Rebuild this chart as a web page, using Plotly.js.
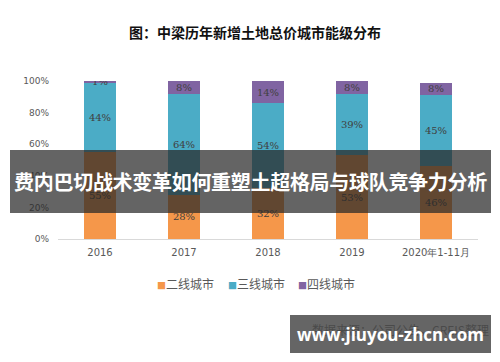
<!DOCTYPE html>
<html>
<head>
<meta charset="utf-8">
<script src="https://cdn.plot.ly/plotly-3.0.1.min.js"></script>
<style>
html,body{margin:0;padding:0;background:#fff;}
#wrap{position:relative;width:500px;height:362px;overflow:hidden;}
#chart{width:500px;height:362px;}
#banner{position:absolute;left:10px;top:150px;width:481px;height:63px;background:rgba(40,40,40,0.72);color:#fff;
font-family:"Noto Sans CJK SC","Noto Sans",sans-serif;font-weight:bold;font-size:20px;line-height:63px;text-align:center;white-space:nowrap;letter-spacing:-0.3px;}
#wm{position:absolute;left:290px;top:315px;width:201px;height:38px;background:rgba(80,80,80,0.88);color:#fff;
font-family:"Open Sans","DejaVu Sans",sans-serif;font-weight:bold;font-size:17px;line-height:40px;text-align:center;white-space:nowrap;}
</style>
</head>
<body>
<div id="wrap">
<div id="chart"></div>
<div id="banner">费内巴切战术变革如何重塑土超格局与球队竞争力分析</div>
<div id="wm">www.jiuyou-zhcn.com</div>
</div>
<script>
var categories = ["2016", "2017", "2018", "2019", "2020年1-11月"];
var tier2 = [55, 28, 32, 53, 46];
var tier3 = [44, 64, 54, 39, 45];
var tier4 = [1, 8, 14, 8, 8];
var seriesNames = ["二线城市", "三线城市", "四线城市"];
var yTicks = [0, 20, 40, 60, 80, 100];
var yTickLabels = ["0%", "20%", "40%", "60%", "80%", "100%"];

var colors = ["#F5974A", "#4BACC6", "#8064A2"];
var seriesVals = [tier2, tier3, tier4];
var traces = seriesVals.map(function(v, i){
  return {
    type: "bar",
    name: seriesNames[i],
    x: categories,
    y: v,
    marker: {color: colors[i], line: {width: 0}},
    text: v.map(function(d){ return d + "%"; }),
    textposition: "inside",
    insidetextanchor: "middle",
    textangle: 0,
    constraintext: "none",
    textfont: {family: "DejaVu Serif, Liberation Serif, serif", size: 10, color: "#404040"},
    hoverinfo: "none",
    showlegend: false
  };
});

// legend drawn as annotations (compact, like the reference)
var plotL = 58, plotW = 420, plotB = 239, plotH = 158;
var legendX = [155, 226, 296];
var legendY = 283;
var annotations = seriesNames.map(function(n, i){
  return {
    text: "<span style='color:" + colors[i] + ";font-size:9px'>■</span>" + n,
    xref: "paper", yref: "paper",
    x: (legendX[i] - plotL) / plotW, y: (plotB - legendY) / plotH,
    xanchor: "left", yanchor: "middle", showarrow: false,
    font: {family: "Noto Sans CJK SC, sans-serif", size: 12, color: "#595959"}
  };
});
annotations.push({
  text: "数据来源：公司公告，CREIS整理",
  xref: "paper", yref: "paper",
  x: 1.03, y: -0.57, xanchor: "right", yanchor: "middle",
  showarrow: false,
  font: {family: "Noto Sans CJK SC, sans-serif", size: 12, color: "#222"}
});

var layout = {
  width: 500, height: 362,
  barmode: "stack",
  bargap: 0.61,
  paper_bgcolor: "#fff",
  plot_bgcolor: "#fff",
  margin: {l: plotL, r: 500 - plotL - plotW, t: 81, b: 362 - plotB},
  uniformtext: {mode: "show", minsize: 10},
  title: {
    text: "<b>图：中梁历年新增土地总价城市能级分布</b>",
    font: {family: "Noto Sans CJK SC, sans-serif", size: 14, color: "#111"},
    x: 0.51, xref: "container", xanchor: "center",
    y: 1 - 33/362, yref: "container", yanchor: "middle"
  },
  xaxis: {
    type: "category",
    showline: true, linecolor: "#D9D9D9", linewidth: 1,
    ticks: "", showgrid: false, zeroline: false,
    tickfont: {family: "DejaVu Sans, sans-serif", size: 10, color: "#595959"},
    ticklabelstandoff: 4
  },
  yaxis: {
    range: [0, 100],
    tickvals: yTicks, ticktext: yTickLabels,
    showgrid: false, zeroline: false, showline: false, ticks: "",
    tickfont: {family: "DejaVu Sans, sans-serif", size: 9, color: "#595959"},
    ticklabelstandoff: 8
  },
  showlegend: false,
  annotations: annotations
};

Plotly.newPlot("chart", traces, layout, {staticPlot: true, displayModeBar: false});
</script>
</body>
</html>
